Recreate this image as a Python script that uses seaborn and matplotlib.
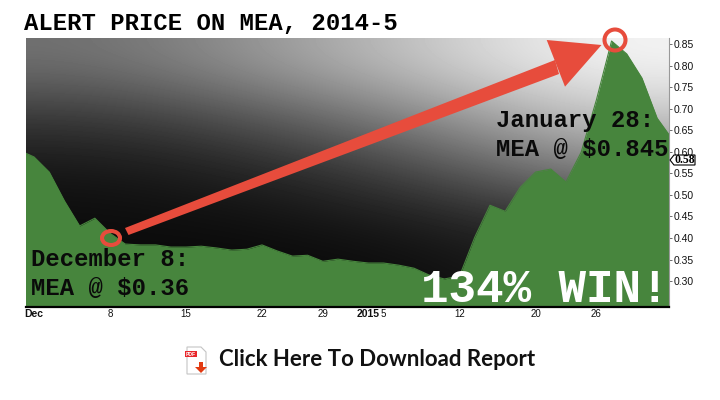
import numpy as np
import pandas as pd
import seaborn as sns
import matplotlib.pyplot as plt
from matplotlib.patches import Ellipse, Polygon, Rectangle

# trading sessions, -1 = last one of november, 42 = first of february
sessions = list(range(-1, 43))
prices = [0.604, 0.588, 0.553, 0.486, 0.428, 0.446, 0.411, 0.386, 0.384, 0.384,
          0.379, 0.379, 0.381, 0.377, 0.372, 0.374, 0.384, 0.370, 0.358, 0.360,
          0.346, 0.351, 0.346, 0.342, 0.342, 0.337, 0.330, 0.314, 0.305, 0.312,
          0.402, 0.476, 0.462, 0.518, 0.553, 0.560, 0.530, 0.599, 0.720, 0.857,
          0.827, 0.771, 0.678, 0.629]
x_ticks = [0, 5, 10, 15, 19, 22, 23, 28, 33, 37]
x_labels = ['Dec', '8', '15', '22', '29', '2015', '5', '12', '20', '26']
bold_labels = ['Dec', '2015']
y_ticks = [0.30, 0.35, 0.40, 0.45, 0.50, 0.55, 0.60, 0.65, 0.70, 0.75, 0.80, 0.85]
last_price = 0.58

# background shading, grey levels from top to bottom, left to right
shade = [[0x70, 0x98, 0xc8, 0xf5],
         [0x35, 0x55, 0x88, 0xc5],
         [0x14, 0x22, 0x48, 0x80],
         [0x0c, 0x0e, 0x18, 0x30],
         [0x08, 0x08, 0x0c, 0x20]]

GREEN = '#47853d'
RED = '#e74c3c'
MONO = 'Liberation Mono'

sns.set_theme(style='white')
df = pd.DataFrame({'session': sessions, 'price': prices})

fig = plt.figure(figsize=(7.2, 4), dpi=100)
W, H = 720, 400
ax = fig.add_axes([26 / W, 1 - 307 / H, 643 / W, 269 / H])
xlim = (-0.53, 41.78)
ylim = (0.24, 0.864)

ax.imshow(np.array(shade) / 255, cmap='gray', vmin=0, vmax=1, aspect='auto',
          extent=(*xlim, ylim[0], ylim[1]), interpolation='bicubic', zorder=0)
ax.fill_between(df['session'], df['price'], ylim[0], color=GREEN, lw=0, zorder=1)
sns.lineplot(data=df, x='session', y='price', color=GREEN, lw=0.8, ax=ax, zorder=2)
ax.set_xlim(xlim)
ax.set_ylim(ylim)
ax.set_xlabel('')
ax.set_ylabel('')

# axes
ax.yaxis.tick_right()
ax.set_yticks(y_ticks)
ax.set_yticklabels([f'{v:.2f}' for v in y_ticks], fontsize=7.5, family='Liberation Sans', color='#111111')
ax.tick_params(axis='y', length=2, width=0.6, pad=1.5, color='#555555', right=True)
ax.set_xticks(x_ticks)
ax.set_xticklabels(x_labels, fontsize=7, family='Liberation Sans', color='#111111')
ax.tick_params(axis='x', length=0, pad=1.5)
for lab in ax.get_xticklabels():
    if lab.get_text() in bold_labels:
        lab.set_fontweight('bold')
        lab.set_fontsize(7.5)
for name in ['top', 'left']:
    ax.spines[name].set_visible(False)
ax.spines['bottom'].set_linewidth(1.6)
ax.spines['bottom'].set_color('black')
ax.spines['right'].set_linestyle((0, (1, 1)))
ax.spines['right'].set_color('#999999')
ax.spines['right'].set_linewidth(0.8)


def px(x, y):
    return x / W, 1 - y / H


# callout marks are placed on the canvas in image pixels
tr = fig.transFigure
shaft = [px(125, 228), px(555, 60), px(559, 74), px(128.5, 235)]
head = [px(601.5, 45), px(546.7, 40), px(565, 86.7)]
ax.add_patch(Polygon(shaft, closed=True, fc=RED, ec='none', transform=tr, clip_on=False, zorder=4))
ax.add_patch(Polygon(head, closed=True, fc=RED, ec='none', transform=tr, clip_on=False, zorder=4))
for cx, cy, w, h in [(111, 238, 18, 14), (615, 40, 21, 21)]:
    ax.add_patch(Ellipse(px(cx, cy), w / W, h / H, fc='none', ec=RED, lw=2.9,
                         transform=tr, clip_on=False, zorder=4))

# last price tag
ax.add_patch(Polygon([px(670, 160), px(674, 155), px(695, 155), px(695, 165), px(674, 165)],
                     closed=True, fc='white', ec='black', lw=0.8, transform=tr, clip_on=False, zorder=5))
ax.annotate(f'{last_price:.2f}', xy=(1, last_price), xycoords=('axes fraction', 'data'),
            xytext=(4, 0), textcoords='offset points', va='center', ha='left',
            fontsize=8.5, family='Liberation Serif', fontweight='bold', color='black', zorder=6)

# texts
fig.text(24 / W, 1 - 23 / H, 'ALERT PRICE ON MEA, 2014-5', family=MONO, fontweight='bold',
         fontsize=17.2, va='center', color='black')
for txt, x, y in [('December 8:', 31, 260), ('MEA @ $0.36', 31, 289),
                  ('January 28:', 496, 120), ('MEA @ $0.845', 496, 149)]:
    fig.text(x / W, 1 - y / H, txt, family=MONO, fontweight='bold', fontsize=17.2,
             va='center', color='#0a0a0a', zorder=6)
fig.text(421 / W, 1 - 290 / H, '134% WIN!', family=MONO, fontweight='bold', fontsize=33,
         va='center', color='white', zorder=6)

# download line with a small pdf icon
fig.add_artist(Polygon([px(187, 347), px(201, 347), px(206, 352), px(206, 374), px(187, 374)],
                       closed=True, fc='white', ec='#c4c4c4', lw=0.8, transform=tr))
fig.add_artist(Rectangle(px(185, 357), 12 / W, 6 / H, fc='#e8262a', ec='none', transform=tr))
fig.text(191 / W, 1 - 354 / H, 'PDF', fontsize=3.6, fontweight='bold', color='white',
         ha='center', va='center', family='Liberation Sans')
fig.add_artist(Polygon([px(199, 362), px(203, 362), px(203, 367), px(207, 367), px(201, 373),
                        px(195, 367), px(199, 367)], closed=True, fc='#e23a12', ec='none', transform=tr))
fig.text(219 / W, 1 - 360 / H, 'Click Here To Download Report', family='Lato',
         fontweight='bold', fontsize=16, va='center', color='#111111')

fig.savefig('out.png', dpi=100)
